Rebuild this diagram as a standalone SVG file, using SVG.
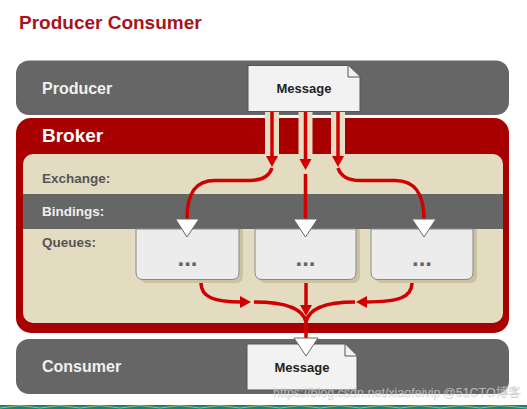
<svg xmlns="http://www.w3.org/2000/svg" width="527" height="409" viewBox="0 0 527 409">
<style>
.t{font-family:"Liberation Sans",Arial,sans-serif;font-weight:bold}
.bar{fill:#666}
.lbl{fill:#f0f0f0;font-size:16px}
.sub{fill:#555;font-size:13.5px}
.msg{fill:#f2f2f2;stroke:#555;stroke-width:1}
.msgt{fill:#222;font-size:13px;text-anchor:middle}
.q{fill:#ececec;stroke:#888;stroke-width:1}
.qs{fill:#cbc2a2}
.dots{fill:#666;font-size:24px;text-anchor:middle}
.tri{fill:#fff;stroke:#666;stroke-width:1}
.ar{fill:none;stroke:#d10000;stroke-width:3.5}
.halo{fill:none;stroke:#e6dfc6;stroke-width:14}
.ah{fill:#d10000}
.wm{font-family:"Liberation Sans",Arial,"Noto Sans CJK SC",sans-serif;font-size:12.5px;fill:#fff;fill-opacity:0.6;stroke:#888;stroke-width:0.4;stroke-opacity:0.5}
</style>
<rect width="527" height="409" fill="#fff"/>
<text class="t" x="19" y="28.5" font-size="19" fill="#a8141c">Producer Consumer</text>

<g id="producer">
<rect class="bar" x="16" y="60.5" width="493" height="54.5" rx="13"/>
<text class="t lbl" x="42" y="93.5">Producer</text>
</g>

<g id="broker">
<rect x="16" y="118" width="493" height="215" rx="15" fill="#a80000"/>
<text class="t" x="42" y="142" font-size="19" fill="#fff">Broker</text>
<rect x="23" y="154" width="480" height="169" rx="10" fill="#e3dcc1"/>
<text class="t sub" x="42" y="183">Exchange:</text>
<rect class="bar" x="23" y="194" width="480" height="35"/>
<text class="t sub" x="42" y="216" style="fill:#eee">Bindings:</text>
<text class="t sub" x="42" y="247">Queues:</text>
</g>

<g id="queue1">
<path class="qs" d="M140 229 H243 V275 Q243 283 236 283 H147 Q140 283 140 275 Z"/>
<path class="q" d="M136 229 H239 V272 Q239 279.5 232 279.5 H143 Q136 279.5 136 272 Z"/>
<text class="t dots" x="187.5" y="266">...</text>
</g>
<g id="queue2">
<path class="qs" d="M259 229 H360 V275 Q360 283 353 283 H266 Q259 283 259 275 Z"/>
<path class="q" d="M255 229 H356 V272 Q356 279.5 349 279.5 H262 Q255 279.5 255 272 Z"/>
<text class="t dots" x="305.5" y="266">...</text>
</g>
<g id="queue3">
<path class="qs" d="M375 229 H477 V275 Q477 283 470 283 H382 Q375 283 375 275 Z"/>
<path class="q" d="M371 229 H473 V272 Q473 279.5 466 279.5 H378 Q371 279.5 371 272 Z"/>
<text class="t dots" x="422" y="266">...</text>
</g>

<g id="connectors">
<path class="halo" d="M272 112 V154 M305.5 112 V154 M338 112 V154"/>
<path class="ar" d="M272 111 V158 M305.5 111 V160 M338 111 V158"/>
<polygon class="ah" points="266,156 278,156 272,167"/>
<polygon class="ah" points="299.5,159 311.5,159 305.5,170"/>
<polygon class="ah" points="332,156 344,156 338,167"/>
<path class="ar" d="M272 168 C269 177 262 180.5 250 180.5 L215 180.5 C196 180.5 187 192 187 220"/>
<path class="ar" d="M305.5 174 V220"/>
<path class="ar" d="M338 168 C341 177 348 180.5 360 180.5 L395 180.5 C414 180.5 424 192 424 220"/>
<path class="ar" d="M201 283 C201 297 214 302 241 302"/>
<polygon class="ah" points="240,296 251,302 240,308"/>
<path class="ar" d="M254 302 C284 302 303 308 306 322"/>
<path class="ar" d="M306 283 V306"/>
<polygon class="ah" points="300,305 306,316 312,305"/>
<path class="ar" d="M412 283 C412 297 399 302 366 302"/>
<polygon class="ah" points="367,296 356,302 367,308"/>
<path class="ar" d="M355 302 C326 302 309 308 306 322"/>
<path class="ar" d="M306 318 V342"/>
</g>

<g id="message-in">
<path class="msg" d="M248 65.5 H348 L360 77 V111.5 H248 Z"/>
<path class="msg" d="M348 65.5 V77 H360"/>
<text class="t msgt" x="304" y="92.5">Message</text>
</g>
<g id="triangles">
<polygon class="tri" points="175.5,219 199,219 187,237"/>
<polygon class="tri" points="293.5,219 317.5,219 305.5,237"/>
<polygon class="tri" points="412,219 436,219 424,237"/>
</g>

<g id="consumer">
<rect class="bar" x="16" y="339" width="493" height="55" rx="13"/>
<text class="t lbl" x="42" y="372">Consumer</text>
</g>
<g id="message-out">
<path class="msg" d="M247 344 H345 L357 356 V390 H247 Z"/>
<path class="msg" d="M345 344 V356 H357"/>
<text class="t msgt" x="302" y="372">Message</text>
<polygon class="tri" points="294,338 318,338 306,356"/>
</g>

<text class="wm" x="273" y="397">https://blog.csdn.net/xiaofeivip</text>
<text class="wm" x="443" y="397">@51CTO博客</text>

<rect x="0" y="405" width="527" height="4" fill="#13857a"/>
<path d="M0 408 L20 405.5 L40 408 L60 405.5 L80 408 L100 405.5 L120 408 L140 405.5 L160 408 L180 405.5 L200 408 L220 405.5 L240 408 L260 405.5 L280 408 L300 405.5 L320 408 L340 405.5 L360 408 L380 405.5 L400 408 L420 405.5 L440 408 L460 405.5 L480 408 L500 405.5 L527 408" fill="none" stroke="#d8c64c" stroke-width="0.8"/>
</svg>
